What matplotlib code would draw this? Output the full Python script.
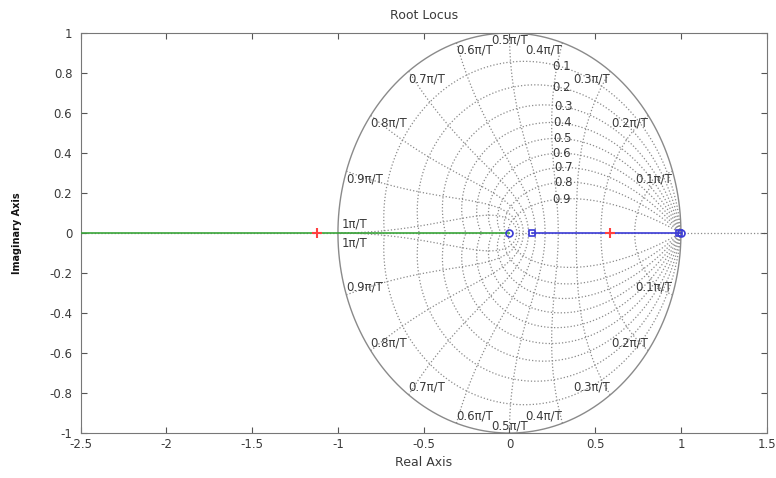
import numpy as np
import matplotlib
matplotlib.use("Agg")
import matplotlib.pyplot as plt

# ---- data ----
branch_green_x = [-2.5, 0.0]
branch_blue_x = [0.13, 1.0]
zeros_x = [0.0, 1.0]
poles_x = [0.13, 0.99]
gain_pts_x = [-1.12, 0.585]
zeta_vals = [0.1, 0.2, 0.3, 0.4, 0.5, 0.6, 0.7, 0.8, 0.9]
wn_vals = [0.1, 0.2, 0.3, 0.4, 0.5, 0.6, 0.7, 0.8, 0.9, 1.0]
wn_labels = ["0.1\u03c0/T", "0.2\u03c0/T", "0.3\u03c0/T", "0.4\u03c0/T", "0.5\u03c0/T",
             "0.6\u03c0/T", "0.7\u03c0/T", "0.8\u03c0/T", "0.9\u03c0/T", "1\u03c0/T"]
xticks = [-2.5, -2, -1.5, -1, -0.5, 0, 0.5, 1, 1.5]
yticks = [-1, -0.8, -0.6, -0.4, -0.2, 0, 0.2, 0.4, 0.6, 0.8, 1]

plt.rcParams['font.family'] = ['DejaVu Sans']
fig = plt.figure(figsize=(7.76, 4.78), dpi=100)
ax = fig.add_axes([0.104, 0.094, 0.884, 0.837])
gc = '#8a8a8a'
fs = 8.5
tc = '#3a3a3a'

# unit circle
t = np.linspace(0, 2 * np.pi, 400)
ax.plot(np.cos(t), np.sin(t), color=gc, lw=1.0, zorder=1)
# real axis dotted
ax.plot([-2.5, 1.5], [0, 0], color=gc, lw=0.9, ls=':', zorder=1)

# damping curves
for z in zeta_vals:
    th = np.linspace(0, np.pi, 200)
    r = np.exp(-z * th / np.sqrt(1 - z ** 2))
    x, y = r * np.cos(th), r * np.sin(th)
    ax.plot(x, y, color=gc, lw=0.9, ls=':', zorder=1)
    ax.plot(x, -y, color=gc, lw=0.9, ls=':', zorder=1)
    i = np.argmin(np.abs(x - 0.3) + (th > 2) * 10)
    ax.text(x[i] + 0.01, y[i], f"{z:g}", ha='center', va='center', fontsize=fs, color=tc,
            zorder=3)

# natural frequency curves
for w, lab in zip(wn_vals, wn_labels):
    zz = np.linspace(0, 1, 200)
    wn = w * np.pi
    s_re = -zz * wn
    s_im = wn * np.sqrt(1 - zz ** 2)
    r = np.exp(s_re)
    x, y = r * np.cos(s_im), r * np.sin(s_im)
    ax.plot(x, y, color=gc, lw=0.9, ls=':', zorder=1)
    ax.plot(x, -y, color=gc, lw=0.9, ls=':', zorder=1)
    px, py = np.cos(wn), np.sin(wn)
    if w < 0.5:
        ha = 'right'
    elif w == 0.5:
        ha = 'center'
    else:
        ha = 'left'
    if w == 1.0:
        ax.text(px + 0.02, 0.015, lab, ha='left', va='bottom', fontsize=fs, color=tc, zorder=3)
        ax.text(px + 0.02, -0.015, lab, ha='left', va='top', fontsize=fs, color=tc, zorder=3)
    else:
        ax.text(px, py - 0.005, lab, ha=ha, va='top', fontsize=fs, color=tc, zorder=3)
        ax.text(px, -py + 0.005, lab, ha=ha, va='bottom', fontsize=fs, color=tc, zorder=3)

# root locus branches
ax.plot(branch_green_x, [0, 0], color='#3aa63a', lw=1.2, zorder=4)
ax.plot(branch_blue_x, [0, 0], color='#3b3bd6', lw=1.2, zorder=4)
ax.plot(zeros_x, [0, 0], 'o', mfc='none', mec='#3b3bd6', ms=5, mew=1.2, zorder=5)
ax.plot(poles_x, [0, 0], 's', mfc='none', mec='#3b3bd6', ms=4, mew=1.2, zorder=5)
ax.plot(gain_pts_x, [0, 0], '+', color='#ff4040', ms=7, mew=1.5, zorder=6)

ax.set_xlim(-2.5, 1.5)
ax.set_ylim(-1, 1)
ax.set_xticks(xticks)
ax.set_yticks(yticks)
ax.set_xticklabels([f"{v:g}" for v in xticks])
ax.set_yticklabels([f"{v:g}" for v in yticks])
ax.tick_params(direction='in', top=True, right=True, labelsize=fs, colors='#555555',
               labelcolor=tc, length=4)
ax.tick_params(axis='y', pad=6)
for sp in ax.spines.values():
    sp.set_color('#777777')
ax.set_title("Root Locus", fontsize=fs + 0.5, color=tc, pad=10)
ax.set_xlabel("Real Axis", fontsize=fs + 0.5, color=tc)
ax.set_ylabel("Imaginary Axis", fontsize=7, color='#111111', fontweight='bold', labelpad=20)
fig.savefig("out.png", dpi=100)
